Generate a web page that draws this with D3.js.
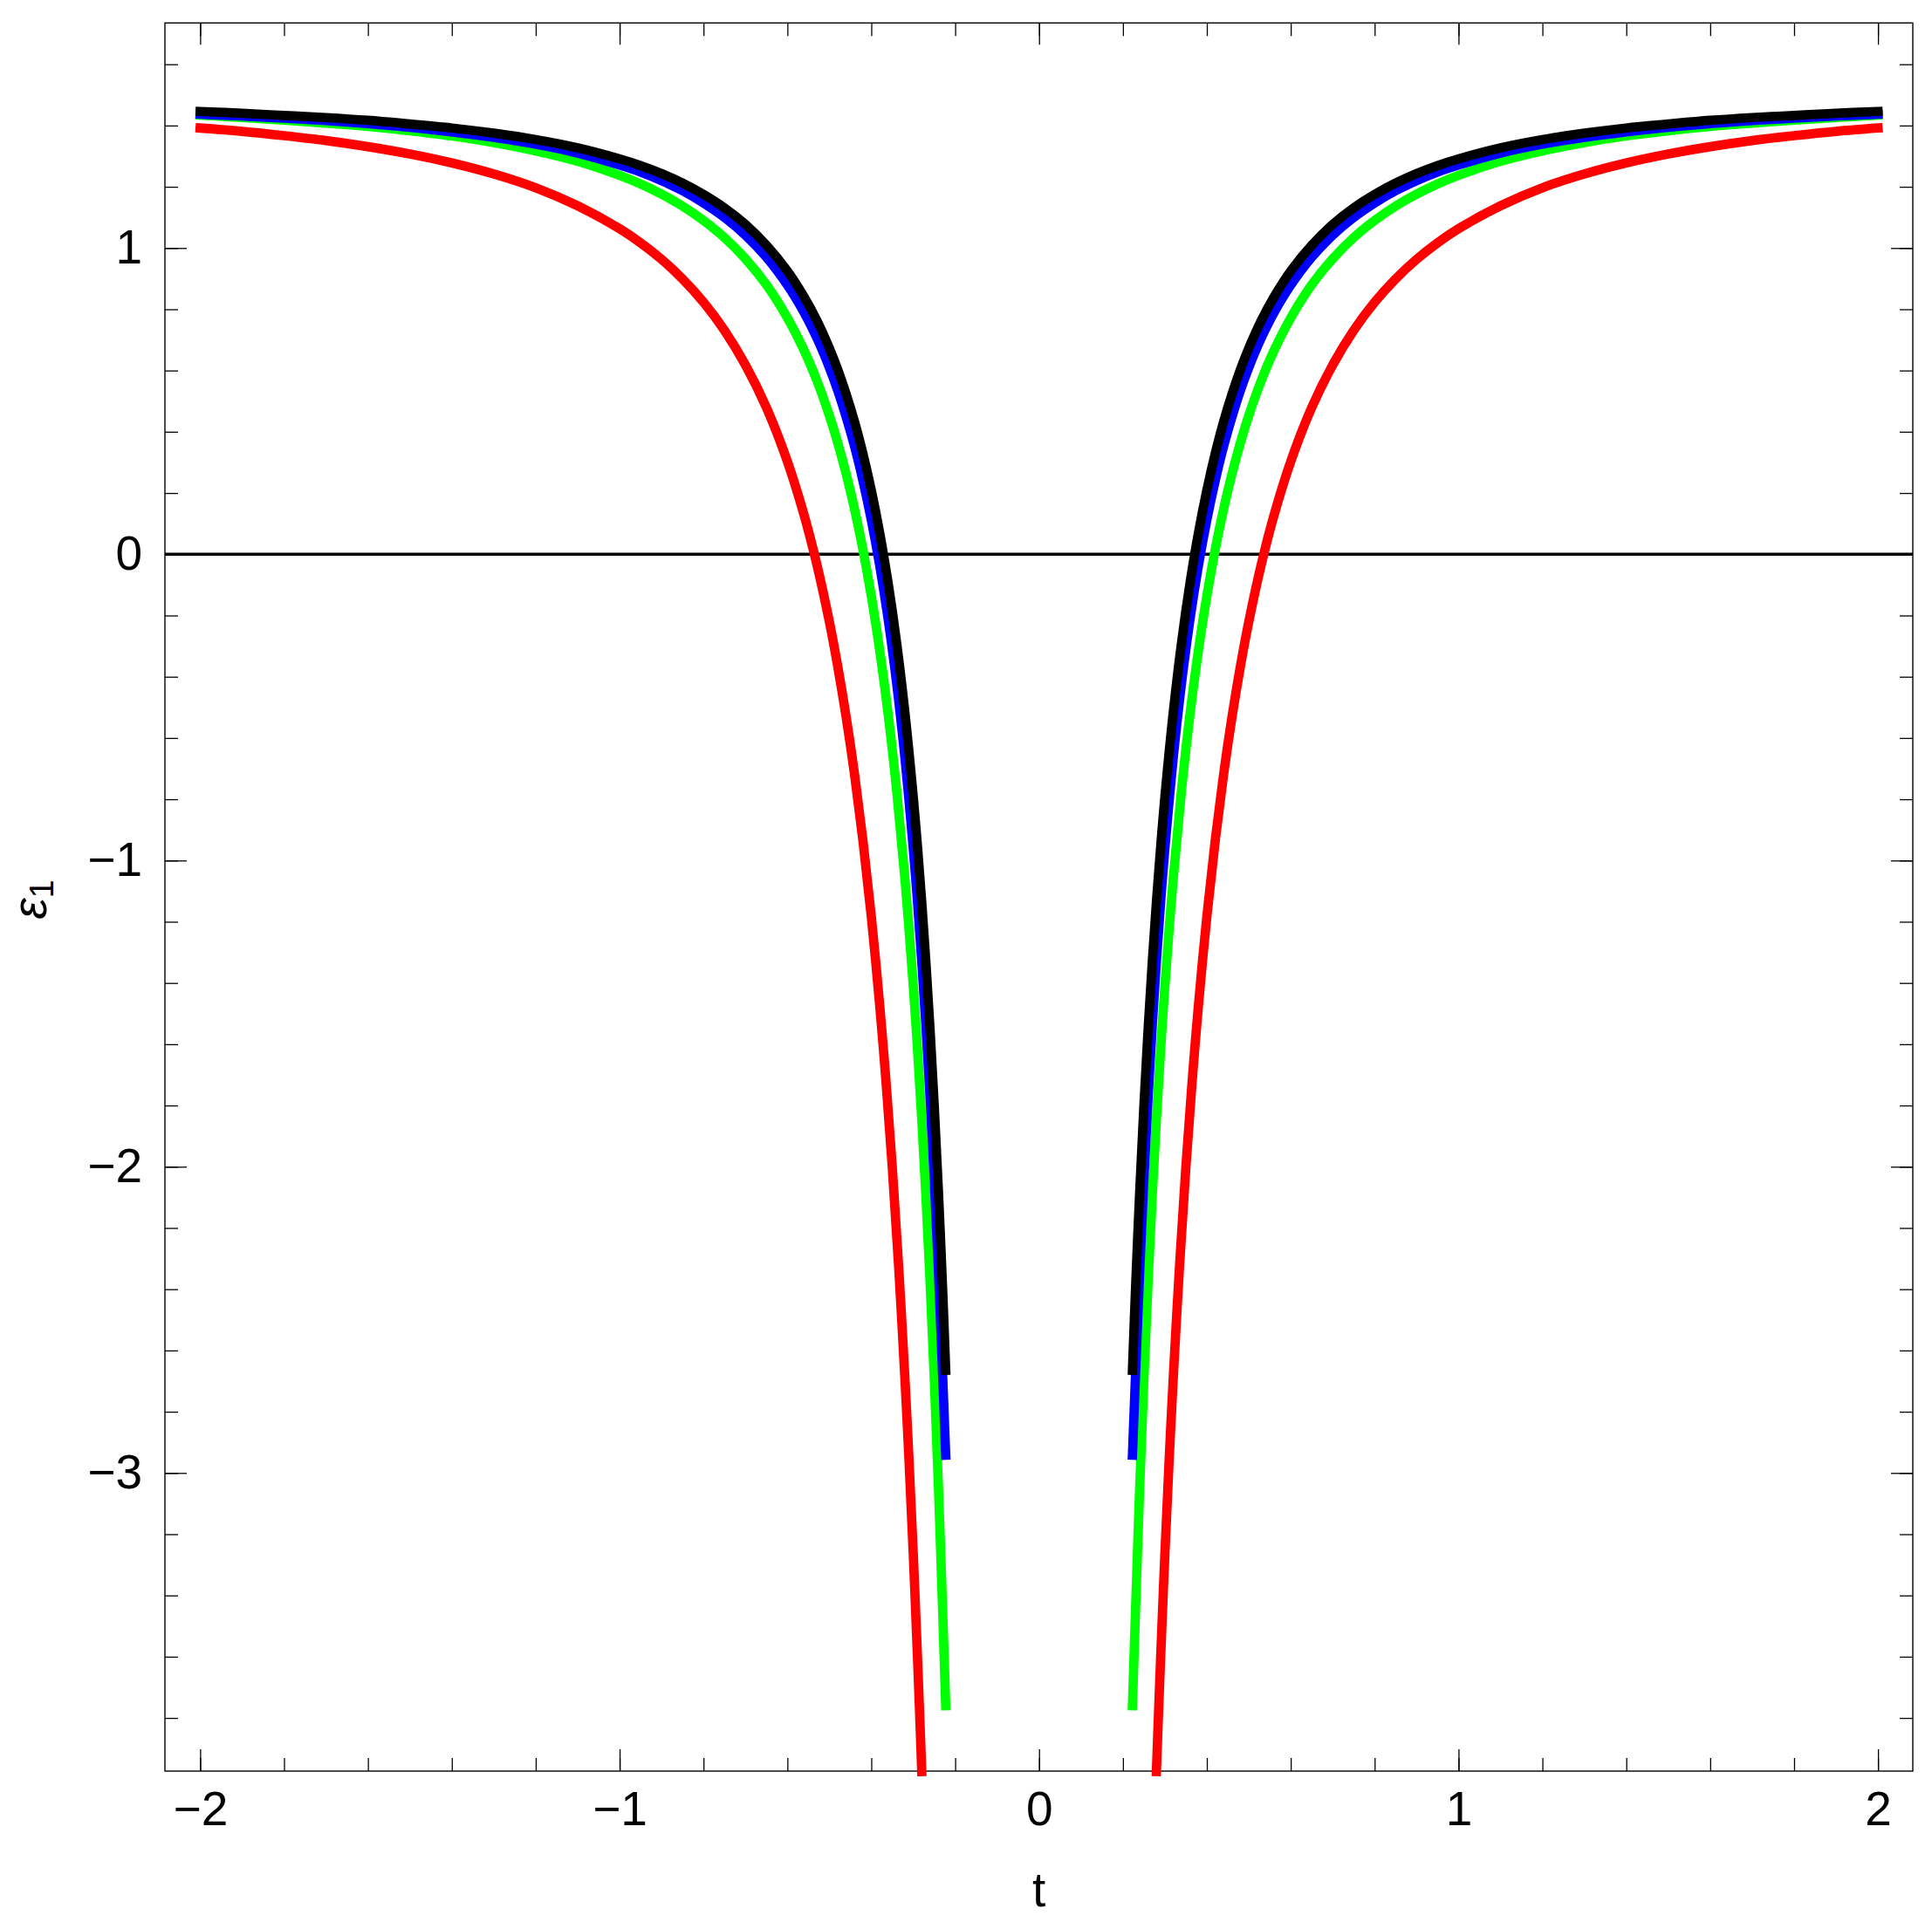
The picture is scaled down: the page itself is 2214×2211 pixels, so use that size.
<!DOCTYPE html>
<meta charset="utf-8">
<style>
    body {
        margin: 0;
        background: #fff;
    }

    text {
        font-family: "Liberation Sans", Arial, sans-serif;
        fill: #000;
    }

    .tick line {
        stroke: #000;
        stroke-width: 1.3;
    }

    .curve {
        fill: none;
        stroke-width: 10.7;
        stroke-linecap: square;
        stroke-linejoin: round;
    }
</style>

<body>
    <svg width="2214" height="2211"></svg>

    <script src="https://d3js.org/d3.v7.min.js"></script>
    <script>
        // t > 0 branch (the t < 0 branch is its mirror image)
        const tValues = [0.2226, 0.23, 0.24, 0.25, 0.26, 0.27, 0.28, 0.29, 0.30, 0.32, 0.34, 0.36, 0.38, 0.40,
            0.42, 0.44, 0.46, 0.48, 0.50, 0.53, 0.56, 0.60, 0.65, 0.70, 0.75, 0.80, 0.85, 0.90, 0.95, 1.0,
            1.1, 1.2, 1.3, 1.4, 1.5, 1.6, 1.7, 1.8, 1.9, 2.0];

        const greenEps = [-3.76, -3.446, -3.043, -2.687, -2.371, -2.089, -1.838, -1.612, -1.408, -1.056, -0.764, -0.520, -0.313, -0.136,
            0.016, 0.148, 0.263, 0.364, 0.453, 0.568, 0.665, 0.772, 0.880, 0.965, 1.034, 1.090, 1.137, 1.176, 1.209, 1.237,
            1.283, 1.317, 1.344, 1.366, 1.383, 1.397, 1.408, 1.418, 1.426, 1.434];

        const blueEps = [-2.942, -2.678, -2.338, -2.038, -1.771, -1.534, -1.322, -1.131, -0.959, -0.662, -0.416, -0.210, -0.036, 0.113,
            0.241, 0.353, 0.449, 0.535, 0.610, 0.707, 0.789, 0.879, 0.970, 1.042, 1.100, 1.147, 1.187, 1.220, 1.248, 1.271,
            1.310, 1.339, 1.361, 1.379, 1.394, 1.406, 1.416, 1.424, 1.431, 1.437];

        const blackEps = [-2.665, -2.397, -2.079, -1.799, -1.550, -1.329, -1.131, -0.953, -0.792, -0.515, -0.285, -0.093, 0.070, 0.209,
            0.329, 0.433, 0.523, 0.603, 0.673, 0.764, 0.840, 0.925, 1.009, 1.077, 1.131, 1.175, 1.212, 1.243, 1.269, 1.291,
            1.327, 1.354, 1.375, 1.392, 1.405, 1.417, 1.426, 1.433, 1.440, 1.446];

        // red leaves the frame at the bottom, so it has its own t values
        const redT = [0.2797, 0.285, 0.29, 0.30, 0.31, 0.32, 0.335, 0.35, 0.365, 0.38, 0.40, 0.42, 0.44, 0.46, 0.48,
            0.50, 0.53, 0.56, 0.60, 0.65, 0.70, 0.75, 0.80, 0.85, 0.90, 0.95, 1.0,
            1.1, 1.2, 1.3, 1.4, 1.5, 1.6, 1.7, 1.8, 1.9, 2.0];
        const redEps = [-3.975, -3.776, -3.597, -3.263, -2.961, -2.687, -2.321, -2.001, -1.720, -1.472, -1.183, -0.934, -0.718, -0.531, -0.366,
            -0.220, -0.032, 0.127, 0.303, 0.479, 0.618, 0.731, 0.823, 0.899, 0.963, 1.017, 1.063,
            1.138, 1.197, 1.242, 1.278, 1.307, 1.331, 1.351, 1.367, 1.381, 1.392];

        const xMajor = [-2, -1, 0, 1, 2];
        const yMajor = [-3, -2, -1, 0, 1];

        const series = [
            { name: "red", color: "#ff0000", t: redT, eps: redEps },
            { name: "green", color: "#00ff00", t: tValues, eps: greenEps },
            { name: "blue", color: "#0000ff", t: tValues, eps: blueEps },
            { name: "black", color: "#000000", t: tValues, eps: blackEps }
        ];

        const svg = d3.select("svg");
        const frame = { left: 189, right: 2192, top: 26.3, bottom: 2030 };

        const x = d3.scaleLinear().domain([-2.084, 2.083]).range([frame.left, frame.right]);
        const y = d3.scaleLinear().domain([-3.9735, 1.735]).range([frame.bottom, frame.top]);

        const xMinor = d3.range(-2, 2.001, 0.2);
        const yMinor = d3.range(-3.8, 1.601, 0.2);
        const fmt = d3.format("d");

        // ticks on all four sides, pointing inwards
        function addAxis(axisFn, scale, translate, minor, major, labels, pad) {
            const gMinor = svg.append("g").attr("transform", translate)
                .call(axisFn(scale).tickValues(minor).tickSize(-15).tickFormat(""));
            gMinor.select(".domain").remove();
            const gMajor = svg.append("g").attr("transform", translate)
                .call(axisFn(scale).tickValues(major).tickSize(-25).tickPadding(pad)
                    .tickFormat(labels ? fmt : ""));
            gMajor.select(".domain").remove();
            gMajor.selectAll("text").style("font-size", "55px");
        }

        addAxis(d3.axisBottom, x, `translate(0,${frame.bottom})`, xMinor, xMajor, true, 23);
        addAxis(d3.axisTop, x, `translate(0,${frame.top})`, xMinor, xMajor, false, 0);
        addAxis(d3.axisLeft, y, `translate(${frame.left},0)`, yMinor, yMajor, true, 26);
        addAxis(d3.axisRight, y, `translate(${frame.right},0)`, yMinor, yMajor, false, 0);

        // frame
        svg.append("rect")
            .attr("x", frame.left)
            .attr("y", frame.top)
            .attr("width", frame.right - frame.left)
            .attr("height", frame.bottom - frame.top)
            .attr("fill", "none")
            .attr("stroke", "#000")
            .attr("stroke-width", 1.4);

        // zero line
        svg.append("line")
            .attr("x1", frame.left)
            .attr("x2", frame.right)
            .attr("y1", y(0))
            .attr("y2", y(0))
            .attr("stroke", "#000")
            .attr("stroke-width", 3.5);

        const line = d3.line()
            .x(d => x(d[0]))
            .y(d => y(d[1]))
            .curve(d3.curveCatmullRom.alpha(0.5));

        const curves = svg.append("g");
        series.forEach(s => {
            const right = s.t.map((t, i) => [t, s.eps[i]]);
            const left = s.t.map((t, i) => [-t, s.eps[i]]).reverse();
            [left, right].forEach(branch => {
                curves.append("path")
                    .attr("class", "curve")
                    .attr("stroke", s.color)
                    .attr("d", line(branch));
            });
        });

        // axis titles
        svg.append("text")
            .attr("x", x(0))
            .attr("y", 2185)
            .attr("text-anchor", "middle")
            .style("font-size", "55px")
            .text("t");

        const yTitle = svg.append("text")
            .attr("transform", "translate(53,1031) rotate(-90)")
            .attr("text-anchor", "middle")
            .style("font-size", "55px");
        yTitle.append("tspan").style("font-style", "italic").text("ε");
        yTitle.append("tspan").attr("dy", 8).style("font-size", "38px").text("1");
    </script>
</body>
